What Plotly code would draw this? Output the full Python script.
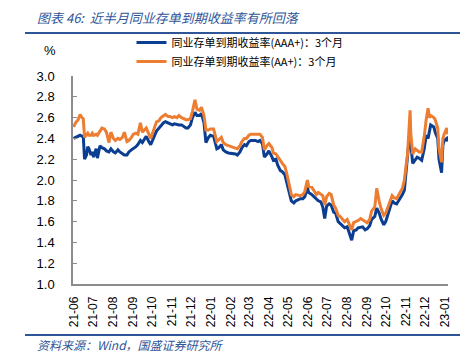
import plotly.graph_objects as go

dates = [
    "2021-06-01", "2021-06-04", "2021-06-08", "2021-06-11", "2021-06-14", "2021-06-16", "2021-06-18",
    "2021-06-21", "2021-06-23", "2021-06-25", "2021-06-28", "2021-06-30", "2021-07-02", "2021-07-06",
    "2021-07-08", "2021-07-12", "2021-07-15", "2021-07-19", "2021-07-22", "2021-07-26", "2021-07-29",
    "2021-08-02", "2021-08-05", "2021-08-09", "2021-08-12", "2021-08-16", "2021-08-19", "2021-08-23",
    "2021-08-26", "2021-08-30", "2021-09-02", "2021-09-06", "2021-09-09", "2021-09-13", "2021-09-16",
    "2021-09-22", "2021-09-26", "2021-09-29", "2021-10-08", "2021-10-12", "2021-10-15", "2021-10-19",
    "2021-10-22", "2021-10-26", "2021-10-29", "2021-11-02", "2021-11-05", "2021-11-09", "2021-11-12",
    "2021-11-16", "2021-11-19", "2021-11-23", "2021-11-26", "2021-11-30", "2021-12-03", "2021-12-07",
    "2021-12-10", "2021-12-14", "2021-12-17", "2021-12-21", "2021-12-24", "2021-12-28", "2021-12-31",
    "2022-01-05", "2022-01-10", "2022-01-13", "2022-01-17", "2022-01-20", "2022-01-24", "2022-01-28",
    "2022-02-08", "2022-02-11", "2022-02-15", "2022-02-18", "2022-02-22", "2022-02-25", "2022-03-01",
    "2022-03-04", "2022-03-08", "2022-03-11", "2022-03-15", "2022-03-18", "2022-03-22", "2022-03-25",
    "2022-03-29", "2022-04-01", "2022-04-06", "2022-04-08", "2022-04-12", "2022-04-15", "2022-04-19",
    "2022-04-22", "2022-04-26", "2022-04-29", "2022-05-06", "2022-05-10", "2022-05-13", "2022-05-17",
    "2022-05-20", "2022-05-24", "2022-05-27", "2022-05-31", "2022-06-02", "2022-06-07", "2022-06-10",
    "2022-06-14", "2022-06-17", "2022-06-21", "2022-06-24", "2022-06-27", "2022-06-30", "2022-07-04",
    "2022-07-07", "2022-07-11", "2022-07-14", "2022-07-18", "2022-07-21", "2022-07-25", "2022-07-28",
    "2022-08-01", "2022-08-04", "2022-08-08", "2022-08-11", "2022-08-15", "2022-08-18", "2022-08-22",
    "2022-08-25", "2022-08-29", "2022-09-01", "2022-09-05", "2022-09-08", "2022-09-13", "2022-09-16",
    "2022-09-20", "2022-09-23", "2022-09-27", "2022-09-30", "2022-10-10", "2022-10-13", "2022-10-17",
    "2022-10-20", "2022-10-24", "2022-10-26", "2022-10-29", "2022-11-03", "2022-11-04", "2022-11-07",
    "2022-11-08", "2022-11-11", "2022-11-15", "2022-11-18", "2022-11-21", "2022-11-25", "2022-11-29",
    "2022-12-02", "2022-12-05", "2022-12-07", "2022-12-09", "2022-12-14", "2022-12-16", "2022-12-20",
    "2022-12-22", "2022-12-26", "2022-12-28", "2022-12-30", "2023-01-03", "2023-01-04",
]

aaa_plus = [
    2.40, 2.41, 2.42, 2.43, 2.42, 2.42, 2.20,
    2.24, 2.32, 2.30, 2.24, 2.27, 2.22, 2.30,
    2.21, 2.33, 2.31, 2.30, 2.28, 2.27, 2.30,
    2.27, 2.26, 2.29, 2.27, 2.25, 2.24, 2.24,
    2.27, 2.29, 2.30, 2.32, 2.34, 2.38, 2.36,
    2.42, 2.37, 2.34, 2.47, 2.50, 2.53, 2.55,
    2.56, 2.55, 2.54, 2.53, 2.54, 2.53, 2.53,
    2.53, 2.52, 2.50, 2.50, 2.53, 2.60, 2.65,
    2.62, 2.62, 2.64, 2.55, 2.36, 2.41, 2.43,
    2.42, 2.30, 2.31, 2.34, 2.29, 2.27, 2.26,
    2.25, 2.24, 2.27, 2.31, 2.34, 2.33, 2.37,
    2.38, 2.38, 2.38, 2.37, 2.38, 2.35, 2.22,
    2.25, 2.28, 2.22, 2.19, 2.20, 2.14, 2.09,
    2.08, 2.05, 1.98, 1.80, 1.78, 1.80, 1.81,
    1.82, 1.82, 1.84, 1.93, 1.88, 1.86, 1.84,
    1.81, 1.80, 1.79, 1.74, 1.63, 1.75, 1.77,
    1.76, 1.69, 1.68, 1.60, 1.58, 1.56, 1.54,
    1.55, 1.50, 1.42, 1.51, 1.52, 1.54, 1.55,
    1.55, 1.52, 1.53, 1.56, 1.62, 1.65, 1.73,
    1.68, 1.62, 1.57, 1.60, 1.80, 1.78, 1.77,
    1.80, 1.83, 1.86, 1.90, 2.18, 2.30, 2.48,
    2.35, 2.16, 2.20, 2.22, 2.21, 2.19, 2.30,
    2.43, 2.40, 2.48, 2.53, 2.51, 2.46, 2.40,
    2.20, 2.07, 2.33, 2.38, 2.40, 2.37,
]

aa_plus = [
    2.51, 2.55, 2.58, 2.63, 2.60, 2.59, 2.41,
    2.44, 2.45, 2.43, 2.43, 2.45, 2.43, 2.44,
    2.43, 2.47, 2.50, 2.49, 2.46, 2.36, 2.46,
    2.40, 2.38, 2.40, 2.39, 2.41, 2.46, 2.37,
    2.38, 2.41, 2.44, 2.45, 2.44, 2.55, 2.46,
    2.50, 2.45, 2.40, 2.56, 2.57, 2.60, 2.62,
    2.63, 2.61, 2.61, 2.60, 2.61, 2.60, 2.62,
    2.60, 2.59, 2.58, 2.58, 2.59, 2.66, 2.77,
    2.68, 2.67, 2.70, 2.62, 2.48, 2.48, 2.49,
    2.49, 2.37, 2.39, 2.41, 2.36, 2.34, 2.33,
    2.31, 2.30, 2.33, 2.37, 2.40, 2.40, 2.43,
    2.44, 2.44, 2.44, 2.44, 2.44, 2.41, 2.29,
    2.33, 2.35, 2.31, 2.26, 2.25, 2.22, 2.18,
    2.16, 2.13, 2.06, 1.86, 1.84, 1.86, 1.85,
    1.85, 1.86, 1.89, 2.00, 1.94, 1.93, 1.90,
    1.86, 1.88, 1.86, 1.85, 1.76, 1.84, 1.87,
    1.86, 1.76, 1.73, 1.66, 1.65, 1.62, 1.60,
    1.62, 1.57, 1.52, 1.59, 1.60, 1.61, 1.63,
    1.62, 1.60, 1.59, 1.62, 1.70, 1.74, 1.92,
    1.79, 1.72, 1.66, 1.68, 1.85, 1.83, 1.82,
    1.86, 1.90, 1.92, 2.00, 2.25, 2.35, 2.67,
    2.45, 2.25, 2.30, 2.28, 2.27, 2.27, 2.42,
    2.58, 2.69, 2.60, 2.62, 2.60, 2.58, 2.50,
    2.30, 2.17, 2.40, 2.44, 2.50, 2.44,
]

name_aaa = "同业存单到期收益率(AAA+)：3个月"
name_aa = "同业存单到期收益率(AA+)：3个月"

title_text = "图表 46:  近半月同业存单到期收益率有所回落"
source_text = "资料来源：Wind，国盛证券研究所"

BLUE = "#0B3D91"
ORANGE = "#ED7D31"
HEAD = "#2F5597"
AXIS = "#8C8C8C"

fig = go.Figure()
fig.add_trace(go.Scatter(x=dates, y=aaa_plus, name=name_aaa, mode="lines",
                         line=dict(color=BLUE, width=3)))
fig.add_trace(go.Scatter(x=dates, y=aa_plus, name=name_aa, mode="lines",
                         line=dict(color=ORANGE, width=3)))

# page body has an 8px default margin, so the figure is drawn 8px smaller
fig.update_layout(
    width=460, height=353,
    margin=dict(l=65, r=20, t=68, b=77, autoexpand=False),
    paper_bgcolor="white", plot_bgcolor="white",
    font=dict(family="Liberation Sans, Noto Sans CJK SC", size=12, color="#000000"),
    showlegend=True,
    legend=dict(x=0.156, y=1.231, xanchor="left", yanchor="top",
                font=dict(family="Noto Sans CJK SC", size=11, color="#000"),
                bgcolor="rgba(0,0,0,0)", tracegroupgap=0, itemwidth=30,
                traceorder="normal"),
    xaxis=dict(
        range=["2021-05-31", "2023-01-05"],
        tickformat="%y-%m", dtick="M1", tick0="2021-06-01",
        tickangle=-90, showgrid=False, zeroline=False,
        showline=True, linecolor=AXIS, linewidth=1.5,
        ticks="", ticklabelstandoff=6,
        tickfont=dict(size=12, family="Liberation Sans"),
    ),
    yaxis=dict(
        range=[1.0, 3.0], dtick=0.2, tick0=1.0, tickformat=".1f",
        showgrid=False, zeroline=False,
        showline=True, linecolor=AXIS, linewidth=1.5,
        ticks="inside", ticklen=4, tickcolor=AXIS, tickwidth=1,
        ticklabelstandoff=14,
        tickfont=dict(size=13, family="Liberation Sans"),
    ),
)

fig.add_annotation(text="%", xref="paper", yref="paper", x=-0.061, y=1.125,
                   xanchor="center", yanchor="middle", showarrow=False,
                   font=dict(size=13, family="Liberation Sans"))
fig.add_annotation(text="<i>" + title_text + "</i>", xref="paper", yref="paper",
                   x=-0.101, y=1.282, xanchor="left", yanchor="middle", showarrow=False,
                   font=dict(size=13, family="Noto Sans CJK SC", color=HEAD))
fig.add_annotation(text="<i>" + source_text + "</i>", xref="paper", yref="paper",
                   x=-0.101, y=-0.293, xanchor="left", yanchor="middle", showarrow=False,
                   font=dict(size=12, family="Noto Sans CJK SC", color=HEAD))

# header and footer rules
fig.add_shape(type="line", xref="paper", yref="paper", x0=-0.128, x1=1.04, y0=1.207, y1=1.207,
              line=dict(color=HEAD, width=2))
fig.add_shape(type="line", xref="paper", yref="paper", x0=-0.128, x1=1.04, y0=-0.245, y1=-0.245,
              line=dict(color=HEAD, width=2))
# tiny marks at the far left edge
fig.add_shape(type="line", xref="paper", yref="paper", x0=-0.195, x1=-0.187, y0=1.207, y1=1.207,
              line=dict(color=HEAD, width=1.5))
fig.add_shape(type="line", xref="paper", yref="paper", x0=-0.195, x1=-0.187, y0=-0.245, y1=-0.245,
              line=dict(color=HEAD, width=1.5))

fig.write_html("out.html")
